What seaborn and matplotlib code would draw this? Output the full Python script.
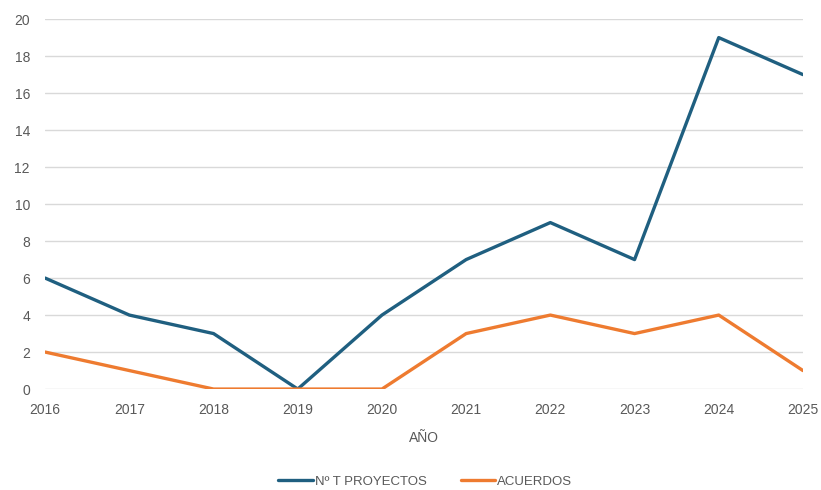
import numpy as np
import pandas as pd
import seaborn as sns
from matplotlib import pyplot as plt

years = [2016, 2017, 2018, 2019, 2020, 2021, 2022, 2023, 2024, 2025]
proyectos = [6, 4, 3, 0, 4, 7, 9, 7, 19, 17]
acuerdos = [2, 1, 0, 0, 0, 3, 4, 3, 4, 1]
series_names = ["Nº T PROYECTOS", "ACUERDOS"]
colors = ["#1F5F80", "#EE7B30"]

df = pd.DataFrame({"AÑO": years, series_names[0]: proyectos, series_names[1]: acuerdos})
long_df = df.melt(id_vars="AÑO", var_name="serie", value_name="valor")

sns.set_style("white")
plt.rcParams["font.family"] = ["Liberation Sans", "DejaVu Sans"]

fig = plt.figure(figsize=(8.21, 4.9), dpi=100)
ax = fig.add_axes([0.055, 0.206, 0.923, 0.755])

sns.lineplot(
    data=long_df, x="AÑO", y="valor", hue="serie",
    palette=colors, linewidth=2.4, ax=ax, legend=False,
)

ax.set_xlim(2016, 2025)
ax.set_ylim(0, 20)
ax.set_xticks(years)
ax.set_yticks(np.arange(0, 21, 2))
ax.yaxis.grid(True, color="#d9d9d9", linewidth=1)
ax.set_axisbelow(True)
for s in ax.spines.values():
    s.set_visible(False)
ax.tick_params(axis="both", length=0, labelsize=10, labelcolor="#595959")
ax.tick_params(axis="x", pad=10)
ax.tick_params(axis="y", pad=11)
ax.set_xlabel("AÑO", fontsize=10, color="#595959", labelpad=10)
ax.set_ylabel("")

handles = [plt.Line2D([], [], color=c, linewidth=2.4) for c in colors]
fig.legend(handles, series_names, loc="center", bbox_to_anchor=(0.518, 0.017),
           ncol=2, frameon=False, fontsize=9.5, labelcolor="#595959",
           handlelength=2.6, handletextpad=0.15, columnspacing=2.6)

fig.savefig("out.png", dpi=100)
